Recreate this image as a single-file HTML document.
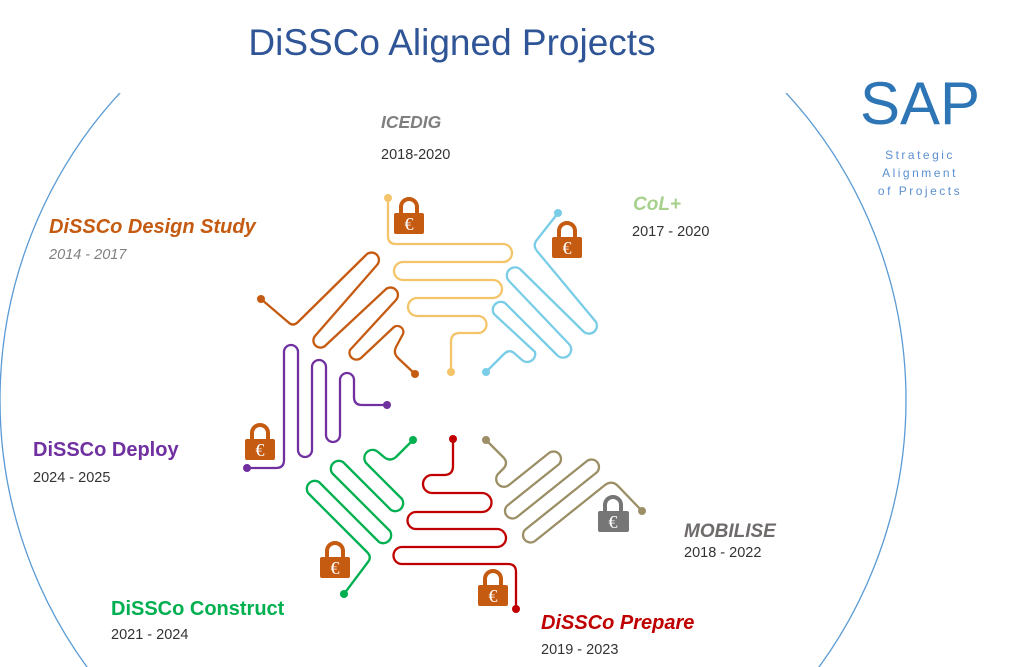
<!DOCTYPE html>
<html><head><meta charset="utf-8"><style>
html,body{margin:0;padding:0;background:#fff;width:1024px;height:667px;overflow:hidden;}
svg{display:block;}
text{font-family:"Liberation Sans",sans-serif;}
</style></head><body>
<svg width="1024" height="667" viewBox="0 0 1024 667" xmlns="http://www.w3.org/2000/svg">
<defs><clipPath id="c"><rect x="0" y="93" width="1024" height="574"/></clipPath></defs>
<circle cx="453" cy="400" r="453" fill="none" stroke="#5b9bd5" stroke-width="1.3" clip-path="url(#c)"/>
<text x="452" y="55" text-anchor="middle" font-size="37" fill="#2f5597">DiSSCo Aligned Projects</text>
<text x="920" y="124" text-anchor="middle" font-size="60" fill="#2e75b6">SAP</text>
<text x="920" y="159" text-anchor="middle" font-size="12" fill="#5b8fd0" letter-spacing="2.5">Strategic</text>
<text x="920" y="177" text-anchor="middle" font-size="12" fill="#5b8fd0" letter-spacing="2.5">Alignment</text>
<text x="920" y="195" text-anchor="middle" font-size="12" fill="#5b8fd0" letter-spacing="2.5">of Projects</text>

<g font-weight="bold">
<text x="381" y="128" font-size="17.5" font-style="italic" fill="#7f7f7f">ICEDIG</text>
<text x="633" y="210" font-size="19" font-style="italic" fill="#a9d18e">CoL+</text>
<text x="49" y="233" font-size="20" font-style="italic" fill="#c55a11">DiSSCo Design Study</text>
<text x="33" y="456" font-size="20" fill="#7030a0">DiSSCo Deploy</text>
<text x="684" y="537" font-size="19" font-style="italic" fill="#6f6b6b">MOBILISE</text>
<text x="111" y="615" font-size="20" fill="#00b050">DiSSCo Construct</text>
<text x="541" y="629" font-size="20" font-style="italic" fill="#c00000">DiSSCo Prepare</text>
</g>
<g font-size="14.5" fill="#333">
<text x="381" y="159">2018-2020</text>
<text x="632" y="236">2017 - 2020</text>
<text x="49" y="259" font-style="italic" fill="#808080">2014 - 2017</text>
<text x="33" y="482">2024 - 2025</text>
<text x="684" y="557">2018 - 2022</text>
<text x="111" y="639">2021 - 2024</text>
<text x="541" y="654">2019 - 2023</text>
</g>

<g fill="none" stroke-width="2.3" stroke-linejoin="round" stroke-linecap="round">
<path stroke="#f4c46a" d="M388 198 V236 Q388 244 396 244 H503 A9 9 0 0 1 503 262 H403 A9 9 0 0 0 403 280 H493 A9 9 0 0 1 493 298 H417 A9 9 0 0 0 417 316 H478 A8.5 8.5 0 0 1 478 333 H460 Q451 333 451 342 V372"/>
<path stroke="#c55a11" d="M261 299 L288 322 Q293 327 298 322 L366 255 A7 7 0 0 1 377 265 L315 336 A7 7 0 0 0 326 345 L385 290 A7 7 0 0 1 396 300 L350 350 A7 7 0 0 0 361 358 L394 327 A6 6 0 0 1 403 334 L396 347 Q393 353 398 358 L415 374"/>
<path stroke="#79cde6" d="M558 213 L536 241 Q533 246 537 251 L596 322 A8 8 0 0 1 584 332 L521 270 A8 8 0 0 0 509 281 L569 344 A8 8 0 0 1 557 355 L505 303 A8 8 0 0 0 494 314 L535 352 A8 8 0 0 1 522 360 L514 353 Q509 349 504 354 L486 372"/>
<path stroke="#7030a0" d="M247 468 H276 Q284 468 284 460 V352 A7 7 0 0 1 298 352 V450 A7 7 0 0 0 312 450 V367 A7 7 0 0 1 326 367 V435 A7 7 0 0 0 340 435 V380 A7 7 0 0 1 354 380 V397 Q354 405 362 405 H387"/>
<path stroke="#00b050" d="M413 440 L396 457 Q390 462 384 457 L378 452 A8 8 0 0 0 367 464 L402 499 A8 8 0 0 1 391 510 L343 462 A8 8 0 0 0 332 473 L390 531 A8 8 0 0 1 379 542 L319 482 A8 8 0 0 0 308 493 L367 552 Q372 557 368 562 L344 594"/>
<path stroke="#c00000" d="M453 439 V466 Q453 475 444 475 H432 A9 9 0 0 0 432 493 H482 A9.5 9.5 0 0 1 482 512 H416 A8.5 8.5 0 0 0 416 529 H497 A9 9 0 0 1 497 547 H402 A8.5 8.5 0 0 0 402 564 H508 Q516 564 516 572 V609"/>
<path stroke="#9c8f66" d="M486 440 L504 458 Q508 463 504 468 L499 473 A7.5 7.5 0 0 0 509 485 L549 453 A7.5 7.5 0 0 1 558 465 L508 505 A7.5 7.5 0 0 0 517 517 L587 461 A7.5 7.5 0 0 1 596 473 L526 529 A7.5 7.5 0 0 0 535 541 L605 485 Q612 480 618 486 L642 511"/>
</g>
<g>
<circle cx="388" cy="198" r="4" fill="#f4c46a"/><circle cx="451" cy="372" r="4" fill="#f4c46a"/>
<circle cx="261" cy="299" r="4" fill="#c55a11"/><circle cx="415" cy="374" r="4" fill="#c55a11"/>
<circle cx="558" cy="213" r="4" fill="#79cde6"/><circle cx="486" cy="372" r="4" fill="#79cde6"/>
<circle cx="247" cy="468" r="4" fill="#7030a0"/><circle cx="387" cy="405" r="4" fill="#7030a0"/>
<circle cx="413" cy="440" r="4" fill="#00b050"/><circle cx="344" cy="594" r="4" fill="#00b050"/>
<circle cx="453" cy="439" r="4" fill="#c00000"/><circle cx="516" cy="609" r="4" fill="#c00000"/>
<circle cx="486" cy="440" r="4" fill="#9c8f66"/><circle cx="642" cy="511" r="4" fill="#9c8f66"/>
</g>

<g>
<g transform="translate(394,213)"><path d="M7 0 V-6 A8 8 0 0 1 23 -6 V0" fill="none" stroke="#c55a11" stroke-width="4"/><rect width="30" height="21" rx="2" fill="#c55a11"/><text x="15" y="17" text-anchor="middle" font-size="18" fill="#fff" style="font-family:'Liberation Serif',serif">€</text></g>
<g transform="translate(552,237)"><path d="M7 0 V-6 A8 8 0 0 1 23 -6 V0" fill="none" stroke="#c55a11" stroke-width="4"/><rect width="30" height="21" rx="2" fill="#c55a11"/><text x="15" y="17" text-anchor="middle" font-size="18" fill="#fff" style="font-family:'Liberation Serif',serif">€</text></g>
<g transform="translate(245,439)"><path d="M7 0 V-6 A8 8 0 0 1 23 -6 V0" fill="none" stroke="#c55a11" stroke-width="4"/><rect width="30" height="21" rx="2" fill="#c55a11"/><text x="15" y="17" text-anchor="middle" font-size="18" fill="#fff" style="font-family:'Liberation Serif',serif">€</text></g>
<g transform="translate(320,557)"><path d="M7 0 V-6 A8 8 0 0 1 23 -6 V0" fill="none" stroke="#c55a11" stroke-width="4"/><rect width="30" height="21" rx="2" fill="#c55a11"/><text x="15" y="17" text-anchor="middle" font-size="18" fill="#fff" style="font-family:'Liberation Serif',serif">€</text></g>
<g transform="translate(478,585)"><path d="M7 0 V-6 A8 8 0 0 1 23 -6 V0" fill="none" stroke="#c55a11" stroke-width="4"/><rect width="30" height="21" rx="2" fill="#c55a11"/><text x="15" y="17" text-anchor="middle" font-size="18" fill="#fff" style="font-family:'Liberation Serif',serif">€</text></g>
<g transform="translate(598,511)"><path d="M7 0 V-6 A8 8 0 0 1 23 -6 V0" fill="none" stroke="#767676" stroke-width="4"/><rect width="31" height="21" rx="2" fill="#767676"/><text x="15" y="17" text-anchor="middle" font-size="18" fill="#fff" style="font-family:'Liberation Serif',serif">€</text></g>
</g>
</svg>
</body></html>
